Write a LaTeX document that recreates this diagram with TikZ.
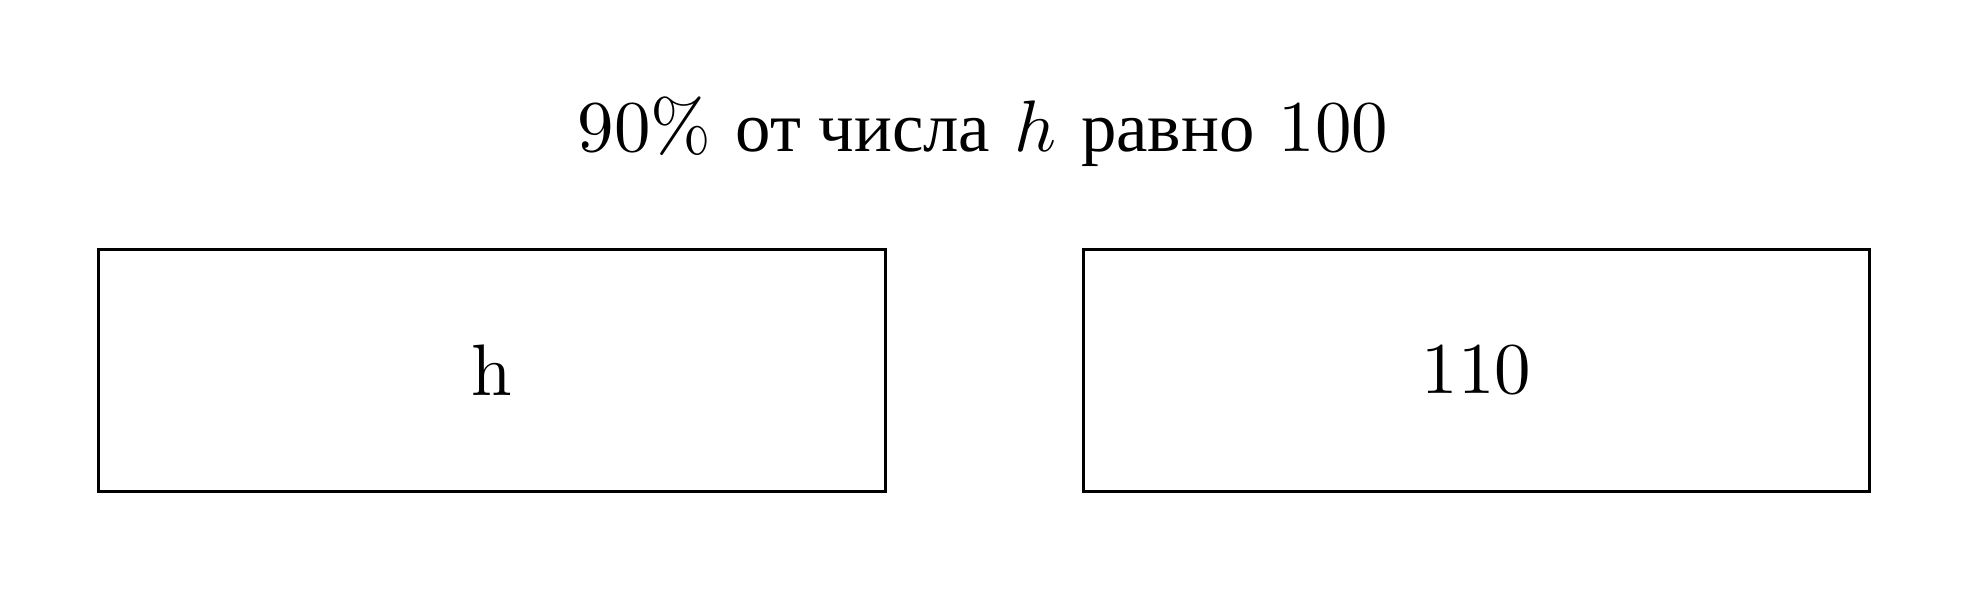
\documentclass[tikz,border=0pt]{standalone}
\usepackage{fontspec}
\newfontfamily\cyrfont{Liberation Serif}[Scale=0.97]
\begin{document}
\begin{tikzpicture}[x=0.01cm,y=-0.01cm,
  valbox/.style={draw=black,line width=0.85pt,minimum width=7.86cm,minimum height=2.41cm,inner sep=0pt},
  lbl/.style={font=\normalsize,inner sep=0pt,scale=2.074}]
\useasboundingbox (0,0) rectangle (1969,592);
\node[lbl,anchor=base] (title) at (983,152) {90\% {\cyrfont от числа} $h$ {\cyrfont равно} 100};
\node[valbox] (leftbox) at (492,370.5) {};
\node[valbox] (rightbox) at (1476.5,370.5) {};
\node[lbl] (lefttext) at (leftbox.center) {h};
\node[lbl] (righttext) at (rightbox.center) {110};
\end{tikzpicture}
\end{document}
